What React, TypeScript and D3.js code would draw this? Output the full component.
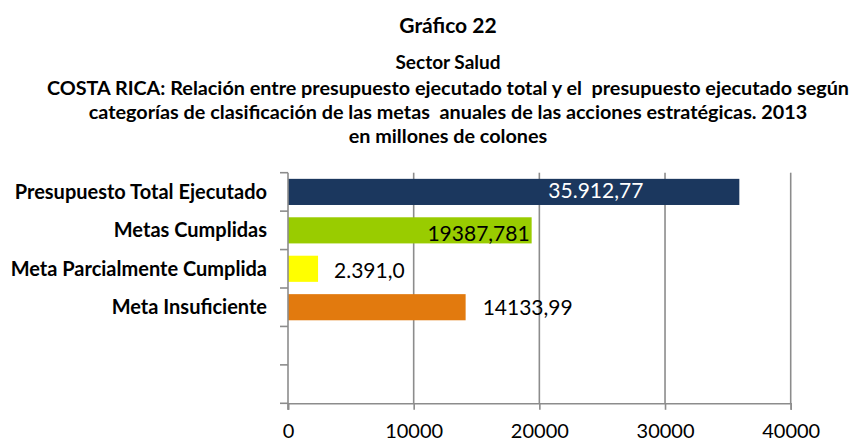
import { useEffect, useRef } from 'react';
import * as d3 from 'd3';

// chart data
const categories = ['Presupuesto Total Ejecutado', 'Metas Cumplidas', 'Meta Parcialmente Cumplida', 'Meta Insuficiente'];
const values = [35912.77, 19387.781, 2391.0, 14133.99];
const valueLabels = ['35.912,77', '19387,781', '2.391,0', '14133,99'];
const barColors = ['#1b375e', '#99cc00', '#ffff00', '#e27a0e'];
const xTicks = [0, 10000, 20000, 30000, 40000];
const titleLines = [
    'COSTA RICA: Relación entre presupuesto ejecutado total y el  presupuesto ejecutado según',
    'categorías de clasificación de las metas  anuales de las acciones estratégicas. 2013',
    'en millones de colones'
];

const FONT = 'Lato, "Open Sans", sans-serif';

export default function App() {
    const svgRef = useRef<SVGSVGElement>(null);

    useEffect(() => {
        if (!svgRef.current) return;
        const svg = d3.select(svgRef.current);
        svg.selectAll('*').remove();

        const plot = { left: 288, right: 790.7, top: 172.7, bottom: 403.3 };
        const cx = 448;

        // titles
        svg.append('text')
            .attr('x', cx).attr('y', 33)
            .attr('text-anchor', 'middle')
            .style('font-family', FONT).style('font-weight', 'bold').style('font-size', '21px')
            .text('Gráfico 22');

        svg.append('text')
            .attr('x', cx).attr('y', 69)
            .attr('text-anchor', 'middle')
            .style('font-family', FONT).style('font-weight', 'bold').style('font-size', '19px')
            .text('Sector Salud');

        titleLines.forEach((line, i) => {
            svg.append('text')
                .attr('x', cx).attr('y', 95 + i * 24)
                .attr('text-anchor', 'middle')
                .style('white-space', 'pre')
                .style('font-family', FONT).style('font-weight', 'bold').style('font-size', '19.8px')
                .text(line);
        });

        // scales: 6 slots on the y axis, last two are empty
        const slots = d3.range(6);
        const y = d3.scaleBand<number>()
            .domain(slots)
            .range([plot.top, plot.bottom])
            .paddingInner(0.32)
            .paddingOuter(0.16);

        const x = d3.scaleLinear()
            .domain([0, 40000])
            .range([plot.left, plot.right]);

        const gridColor = '#8c8c8c';

        // vertical gridlines
        svg.append('g')
            .selectAll('line')
            .data(xTicks.slice(1))
            .enter().append('line')
            .attr('x1', d => x(d)).attr('x2', d => x(d))
            .attr('y1', plot.top).attr('y2', plot.bottom)
            .attr('stroke', gridColor).attr('stroke-width', 1.6);

        // bars
        svg.append('g')
            .selectAll('rect')
            .data(values)
            .enter().append('rect')
            .attr('x', x(0))
            .attr('y', (d, i) => y(i)!)
            .attr('width', d => x(d) - x(0))
            .attr('height', y.bandwidth())
            .attr('fill', (d, i) => barColors[i]);

        // y axis with ticks on band boundaries
        const step = y.step();
        svg.append('line')
            .attr('x1', plot.left).attr('x2', plot.left)
            .attr('y1', plot.top).attr('y2', plot.bottom + 6.5)
            .attr('stroke', gridColor).attr('stroke-width', 1.6);
        svg.append('g')
            .selectAll('line')
            .data(d3.range(slots.length + 1))
            .enter().append('line')
            .attr('x1', plot.left - 8).attr('x2', plot.left)
            .attr('y1', d => plot.top + d * step).attr('y2', d => plot.top + d * step)
            .attr('stroke', gridColor).attr('stroke-width', 1.6);

        // x axis
        const xAxis = svg.append('g')
            .attr('transform', `translate(0,${plot.bottom})`)
            .call(d3.axisBottom(x).tickValues(xTicks).tickSize(6.5).tickPadding(14).tickFormat(d3.format('d')));
        xAxis.select('.domain').attr('stroke', gridColor).attr('stroke-width', 1.6);
        xAxis.selectAll('.tick line').attr('stroke', gridColor).attr('stroke-width', 1.6);
        xAxis.selectAll('.tick text')
            .attr('fill', '#000')
            .attr('dy', '0.71em')
            .style('font-family', FONT).style('font-size', '20px');

        // category labels
        svg.append('g')
            .selectAll('text')
            .data(categories)
            .enter().append('text')
            .attr('x', 267)
            .attr('y', (d, i) => y(i)! + y.bandwidth() / 2 + 7)
            .attr('text-anchor', 'end')
            .style('font-family', FONT).style('font-weight', 'bold').style('font-size', '20px')
            .text(d => d);

        // value labels
        const labelLayout = [
            { dx: -96, anchor: 'end', dy: 6, fill: '#fff' },
            { dx: -2, anchor: 'end', dy: 11, fill: '#000' },
            { dx: 16, anchor: 'start', dy: 9, fill: '#000' },
            { dx: 17, anchor: 'start', dy: 8, fill: '#000' }
        ];
        svg.append('g')
            .selectAll('text')
            .data(values)
            .enter().append('text')
            .attr('x', (d, i) => x(d) + labelLayout[i].dx)
            .attr('y', (d, i) => y(i)! + y.bandwidth() / 2 + labelLayout[i].dy)
            .attr('text-anchor', (d, i) => labelLayout[i].anchor)
            .attr('fill', (d, i) => labelLayout[i].fill)
            .style('font-family', FONT).style('font-size', '21px')
            .text((d, i) => valueLabels[i]);
    }, []);

    return (
        <svg
            ref={svgRef}
            width={854}
            height={443}
            style={{ position: 'absolute', left: 0, top: 0, background: '#fff' }}
        />
    );
}
